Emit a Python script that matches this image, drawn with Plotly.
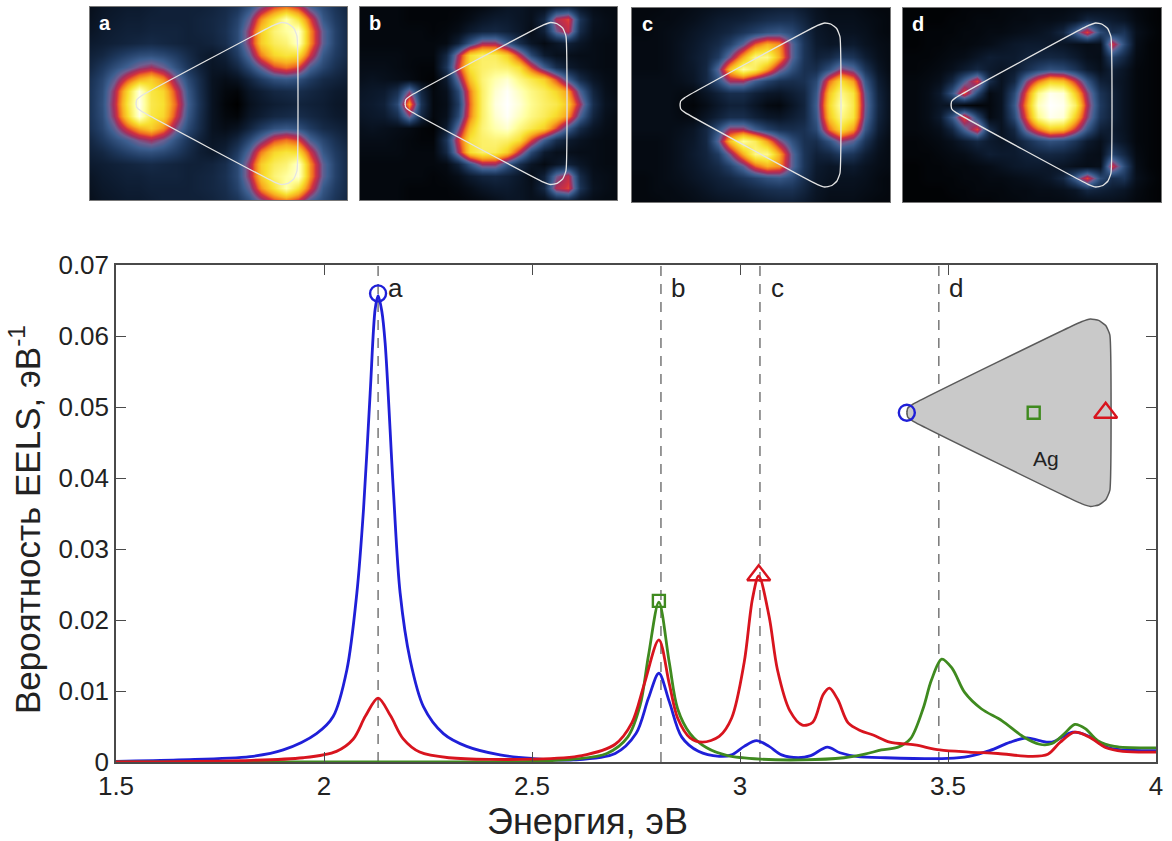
import plotly.graph_objects as go

W, H = 1172, 841
FONT = "Liberation Sans"

# ---- EELS spectra ----
blue_x = [1.5,1.65,1.822,1.902,1.982,2.022,2.055,2.079,2.095,2.111,2.123,2.13,2.139,2.147,2.167,2.183,2.207,2.239,2.287,2.343,2.423,2.5,2.6,2.7,2.75,2.78,2.805,2.83,2.86,2.9,2.95,2.98,3.01,3.04,3.07,3.1,3.14,3.17,3.21,3.24,3.28,3.35,3.5,3.55,3.6,3.65,3.69,3.72,3.75,3.8,3.84,3.88,3.92,4.0]
blue_y = [0.0001,0.0003,0.00075,0.0017,0.004,0.0064,0.013,0.0238,0.0356,0.052,0.0638,0.0657,0.0635,0.059,0.038,0.0238,0.0144,0.0078,0.004,0.0022,0.001,0.0005,0.0003,0.0012,0.004,0.009,0.0125,0.0085,0.0035,0.0015,0.0008,0.001,0.0022,0.003,0.0022,0.001,0.0006,0.0009,0.0021,0.0013,0.0008,0.0006,0.0005,0.0008,0.0016,0.0028,0.0034,0.003,0.0028,0.0042,0.0036,0.0021,0.0017,0.0016]
green_x = [1.5,2.0,2.5,2.6,2.68,2.73,2.76,2.78,2.805,2.83,2.85,2.88,2.92,2.97,3.05,3.15,3.25,3.3,3.34,3.38,3.41,3.44,3.46,3.485,3.51,3.54,3.58,3.63,3.68,3.72,3.75,3.78,3.805,3.83,3.86,3.9,4.0]
green_y = [0,0,0.0001,0.0004,0.0012,0.0035,0.008,0.015,0.0225,0.014,0.0075,0.004,0.002,0.0009,0.0004,0.0003,0.0006,0.0011,0.0017,0.0021,0.0033,0.0075,0.0115,0.0145,0.0132,0.0098,0.0075,0.0058,0.0036,0.0025,0.0026,0.004,0.0053,0.0047,0.003,0.0022,0.002]
red_x = [1.5,1.8,1.95,2.03,2.07,2.1,2.13,2.16,2.19,2.23,2.3,2.5,2.62,2.7,2.74,2.77,2.805,2.83,2.85,2.88,2.91,2.95,2.98,3.01,3.03,3.045,3.07,3.09,3.12,3.15,3.175,3.2,3.215,3.235,3.26,3.29,3.32,3.36,3.42,3.48,3.55,3.62,3.7,3.74,3.77,3.805,3.84,3.88,3.92,4.0]
red_y = [0,0.0002,0.0006,0.0015,0.0032,0.0065,0.009,0.0065,0.0033,0.0014,0.0006,0.0004,0.0009,0.0025,0.0055,0.011,0.0172,0.011,0.0062,0.0034,0.0028,0.0036,0.0062,0.014,0.023,0.0262,0.0205,0.013,0.0072,0.0052,0.0056,0.0095,0.0104,0.0088,0.0055,0.0044,0.0038,0.0028,0.0024,0.0017,0.0014,0.0012,0.0008,0.0011,0.0028,0.0042,0.0035,0.002,0.0015,0.0014]

mode_x = [2.13, 2.81, 3.048, 3.478]
mode_labels = ["a", "b", "c", "d"]
mode_label_x = [2.173, 2.85, 3.09, 3.52]
mode_label_y = 0.0668
peak_marker_x = [2.13, 2.805, 3.045]
peak_marker_y = [0.066, 0.0227, 0.0263]
series_colors = ["#1f1fd8", "#3f8a1f", "#d8141e"]
marker_symbols = ["circle-open", "square-open", "triangle-up-open"]
marker_sizes = [16, 12, 20]

x_ticks = [1.5, 2, 2.5, 3, 3.5, 4]
x_ticklabels = ["1.5", "2", "2.5", "3", "3.5", "4"]
y_ticks = [0, 0.01, 0.02, 0.03, 0.04, 0.05, 0.06, 0.07]
y_ticklabels = ["0", "0.01", "0.02", "0.03", "0.04", "0.05", "0.06", "0.07"]
x_title = "Энергия, эВ"
y_title = "Вероятность EELS, эВ<sup>-1</sup>"

# ---- Inset: rounded triangle outline (unit shape) ----
outline_u = [0,0.004,0.03,0.86,0.905,0.945,0.98,1,1,0.98,0.945,0.905,0.86,0.03,0.004,0]
outline_v = [-0.02,0.045,0.09,0.97,1,0.985,0.93,0.83,-0.83,-0.93,-0.985,-1,-0.97,-0.09,-0.045,0.02]
inset_x0, inset_x1 = 3.401, 3.889
inset_yc, inset_yh = 0.0492, 0.0132
inset_marker_x = [3.401, 3.706, 3.879]
inset_marker_y = [0.0492, 0.0492, 0.0492]

# ---- Upper halves of the maps; the maps are mirror-symmetric about the middle row ----
map_a = [
 [6,8,9,10,10,11,12,12,12,12,13,15,18,26,38,50,55,48,32,24,18,14],
 [7,9,10,11,11,12,12,12,12,13,14,16,22,35,58,74,90,74,50,28,20,15],
 [8,10,11,12,12,13,13,13,12,13,14,17,24,42,68,82,88,95,58,34,22,15],
 [10,11,12,13,14,15,14,13,12,12,13,16,24,42,68,78,82,94,58,34,22,15],
 [12,14,18,22,25,26,24,20,15,11,9,12,20,34,56,70,74,72,48,28,20,15],
 [14,19,25,31,38,42,36,26,18,12,8,9,14,24,36,50,55,50,32,23,17,13],
 [17,23,34,50,62,68,58,38,24,15,7,5,7,13,20,26,28,26,20,15,13,11],
 [18,25,42,70,96,75,70,48,28,16,7,3,2,8,11,14,15,16,14,12,10,9],
 [18,26,44,74,98,76,72,52,30,17,7,2,0,6,9,11,12,13,12,11,9,8],
]
map_b = [
 [3,3,3,3,2,2,2,2,2,3,4,6,8,8,6,6,12,14,8,5,4,4],
 [3,3,3,3,2,2,2,2,3,5,8,10,10,8,6,14,44,50,18,7,5,4],
 [3,3,3,3,3,3,2,3,5,10,13,14,12,9,5,12,36,46,15,6,5,4],
 [3,3,3,3,3,3,3,4,12,28,42,42,28,16,8,4,8,12,8,5,4,4],
 [4,4,4,4,3,3,3,14,42,72,80,78,68,46,24,10,6,6,5,5,4,4],
 [5,5,5,4,3,2,2,18,48,74,80,82,80,72,50,30,16,10,7,5,4,4],
 [6,7,6,5,4,2,1,10,36,66,82,90,94,84,76,68,50,30,15,8,5,4],
 [8,9,10,16,38,14,3,6,24,56,80,94,99,92,84,78,70,58,32,13,6,4],
 [9,10,12,24,60,18,3,5,20,54,80,96,100,95,86,80,76,66,42,16,7,5],
]
map_c = [
 [3,3,3,4,4,5,6,7,8,9,10,11,12,12,10,7,5,5,5,4,3,3],
 [3,3,4,4,5,6,8,10,11,12,14,16,17,17,13,8,6,6,6,5,4,3],
 [3,3,4,5,6,8,10,12,14,18,22,26,28,24,16,9,7,7,7,6,4,3],
 [4,4,4,5,7,9,12,15,22,34,52,62,58,34,18,10,8,9,10,7,5,4],
 [4,4,4,5,7,10,13,20,38,62,84,85,62,34,18,12,14,20,18,11,6,4],
 [4,4,4,5,7,9,14,34,66,88,78,60,40,26,17,16,26,40,34,18,8,4],
 [5,5,5,5,6,8,14,26,42,42,30,22,17,16,17,24,54,72,60,28,11,5],
 [5,5,5,5,4,4,8,12,16,16,12,9,8,11,14,28,66,84,74,34,13,6],
 [5,5,5,5,3,2,5,9,12,12,8,4,3,8,13,30,70,90,76,36,14,6],
]
map_d = [
 [1,1,1,1,1,2,2,2,3,3,4,4,4,4,5,5,6,6,5,3,2,1],
 [1,1,1,1,2,2,3,3,3,4,4,5,5,6,8,14,12,10,8,4,2,1],
 [1,1,2,2,2,3,3,4,4,5,6,7,9,14,30,50,25,16,18,6,3,1],
 [1,1,2,2,3,3,4,5,7,9,10,10,9,8,6,5,6,48,25,5,2,1],
 [2,2,2,3,4,5,8,11,10,10,12,13,14,13,10,6,5,22,14,4,2,1],
 [2,2,3,4,6,10,14,10,8,10,16,22,26,24,18,10,6,12,8,3,2,1],
 [3,3,4,6,14,32,50,16,7,14,38,55,68,65,48,28,12,10,7,3,2,1],
 [3,3,5,10,28,52,24,4,7,24,52,85,98,95,68,40,18,12,7,3,2,1],
 [3,3,5,8,7,3,2,3,7,28,58,92,100,98,80,44,20,12,7,3,2,1],
]
maps = [map_a, map_b, map_c, map_d]
panel_names = ["a", "b", "c", "d"]
# panel frame in pixels: left, right, top, bottom; outline: tip x, right x, half height, centre y
panel_box = [(90, 347, 7, 200), (360, 617, 7, 200), (632, 890, 8, 202), (903, 1161, 8, 202)]
panel_outline = [(136, 297, 81, 103.5), (405, 566, 81, 103.5), (680, 840, 82, 105), (951, 1111, 82, 105)]

heat_colors = [
 [0, "#000000"], [0.10, "#0c1a2e"], [0.20, "#1f3a60"], [0.30, "#3d5f90"], [0.36, "#6d5f90"],
 [0.42, "#a03060"], [0.48, "#d03040"], [0.54, "#f07020"], [0.62, "#f8b020"], [0.72, "#f8e030"],
 [0.88, "#ffffa0"], [1, "#ffffff"],
]

fig = go.Figure()
layout = {}

# ---- Panels ----
for k, (rows, name, box, ol) in enumerate(zip(maps, panel_names, panel_box, panel_outline)):
    n = k + 2
    left, right, top, bottom = box
    z = rows + rows[-2::-1]
    nx, ny = len(z[0]), len(z)
    xs = [left + (right - left) * j / (nx - 1) for j in range(nx)]
    ys = [top + (bottom - top) * i / (ny - 1) for i in range(ny)]
    fig.add_trace(go.Heatmap(x=xs, y=ys, z=z, zmin=0, zmax=100, zsmooth="best", colorscale=heat_colors,
                             showscale=False, xaxis=f"x{n}", yaxis=f"y{n}", hoverinfo="skip"))
    tip, rgt, hh, cy = ol
    fig.add_trace(go.Scatter(x=[tip + (rgt - tip) * u for u in outline_u],
                             y=[cy + hh * v for v in outline_v],
                             mode="lines", line=dict(color="#e4e4e4", width=1.3, shape="spline", smoothing=0.4),
                             showlegend=False, xaxis=f"x{n}", yaxis=f"y{n}", hoverinfo="skip"))
    layout[f"xaxis{n}"] = dict(domain=[left / W, right / W], range=[left, right], showticklabels=False,
                               ticks="", showgrid=False, zeroline=False, showline=True, mirror=True,
                               linecolor="#777777", linewidth=1, anchor=f"y{n}", automargin=False)
    layout[f"yaxis{n}"] = dict(domain=[1 - bottom / H, 1 - top / H], range=[bottom, top], showticklabels=False,
                               ticks="", showgrid=False, zeroline=False, showline=True, mirror=True,
                               linecolor="#777777", linewidth=1, anchor=f"x{n}", automargin=False)
    fig.add_annotation(x=left + 15, y=top + 16, xref=f"x{n}", yref=f"y{n}", text=f"<b>{name}</b>", showarrow=False,
                       font=dict(family=FONT, size=20, color="white"))

# ---- Main plot ----
for mx in mode_x:
    fig.add_trace(go.Scatter(x=[mx, mx], y=[0, 0.07], mode="lines",
                             line=dict(color="#555555", width=1.2, dash="10px,8px"), showlegend=False, hoverinfo="skip"))

# inset shape
fig.add_trace(go.Scatter(x=[inset_x0 + (inset_x1 - inset_x0) * u for u in outline_u],
                         y=[inset_yc + inset_yh * v for v in outline_v],
                         mode="lines", fill="toself", fillcolor="#c9c9c9",
                         line=dict(color="#5a5a5a", width=1.5, shape="spline", smoothing=0.4),
                         showlegend=False, hoverinfo="skip"))

for sx, sy, col in zip([blue_x, green_x, red_x], [blue_y, green_y, red_y], series_colors):
    fig.add_trace(go.Scatter(x=sx, y=sy, mode="lines", line=dict(color=col, width=2.8, shape="spline", smoothing=0.9),
                             showlegend=False))

for i in range(3):
    for mxs, mys in ((peak_marker_x, peak_marker_y), (inset_marker_x, inset_marker_y)):
        fig.add_trace(go.Scatter(x=[mxs[i]], y=[mys[i]], mode="markers",
                                 marker=dict(symbol=marker_symbols[i], size=marker_sizes[i], color=series_colors[i],
                                             line=dict(width=2.4, color=series_colors[i])),
                                 showlegend=False, hoverinfo="skip"))

for lab, lx in zip(mode_labels, mode_label_x):
    fig.add_annotation(x=lx, y=mode_label_y, text=lab, showarrow=False, font=dict(family=FONT, size=26, color="#222222"))
fig.add_annotation(x=3.735, y=0.0428, text="Ag", showarrow=False, font=dict(family=FONT, size=21, color="#222222"))

# axis titles, off-centre in the reference
fig.add_annotation(x=587 / W, y=1 - 821 / H, xref="paper", yref="paper", xanchor="center", yanchor="middle",
                   text=x_title, showarrow=False, font=dict(family=FONT, size=36, color="#222222"))
fig.add_annotation(x=25 / W, y=1 - 520 / H, xref="paper", yref="paper", xanchor="center", yanchor="middle",
                   text=y_title, showarrow=False, textangle=-90, font=dict(family=FONT, size=35, color="#222222"))

axis_common = dict(showgrid=False, zeroline=False, showline=True, mirror="ticks", linecolor="#4a4a4a", linewidth=1.5,
                   ticks="inside", ticklen=10, tickwidth=1, tickcolor="#4a4a4a", automargin=False,
                   tickfont=dict(family=FONT, size=26, color="#222222"))
layout["xaxis"] = dict(domain=[116 / W, 1156 / W], range=[1.5, 4], tickvals=x_ticks, ticktext=x_ticklabels, **axis_common)
layout["yaxis"] = dict(domain=[1 - 762 / H, 1 - 265 / H], range=[0, 0.07], tickvals=y_ticks, ticktext=y_ticklabels, **axis_common)

fig.update_layout(width=W, height=H, margin=dict(l=0, r=0, t=0, b=0), paper_bgcolor="white", plot_bgcolor="white",
                  showlegend=False, **layout)
fig.write_html("out.html", config=dict(displayModeBar=False), post_script="document.body.style.margin='0';")
